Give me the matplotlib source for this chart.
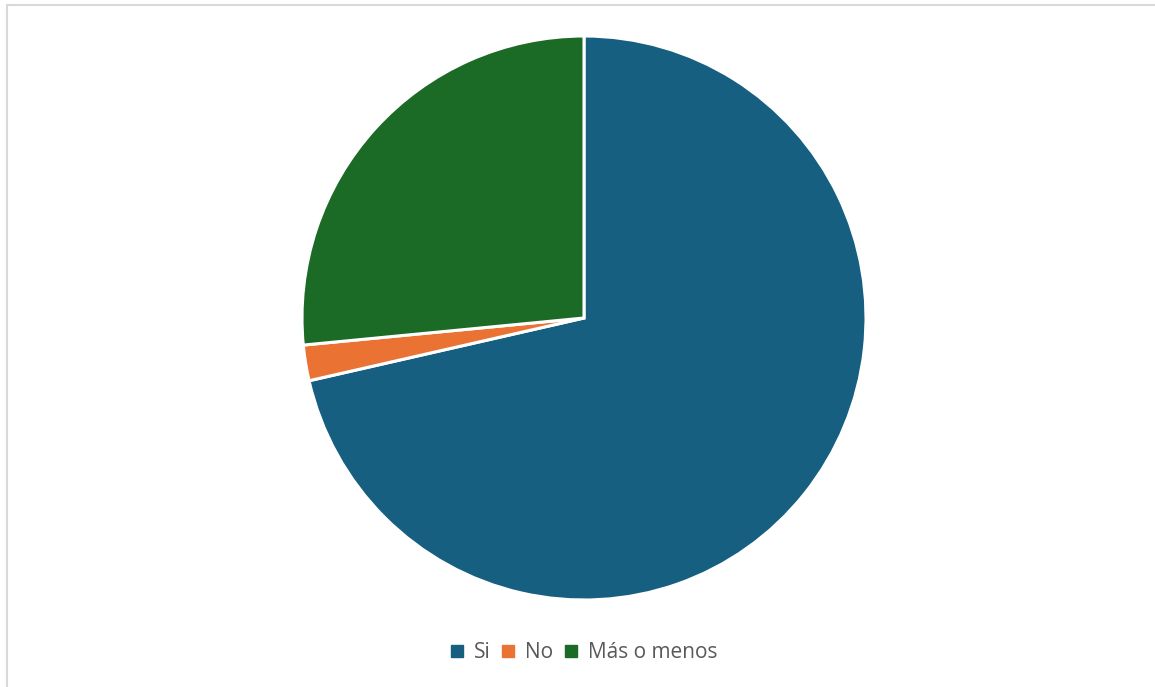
import matplotlib.pyplot as plt
import matplotlib.patches as patches
from matplotlib.lines import Line2D

labels = ["Si", "No", "Más o menos"]
values = [35, 1, 13]
colors = ["#175f80", "#ea7334", "#1b6a25"]

W, H = 1155, 687
fig = plt.figure(figsize=(W / 100, H / 100), dpi=100)

# light frame (only top/left visible in the reference)
fig.patches.append(patches.Rectangle((7 / W, -0.1), 1.2, 1 - 5 / H + 0.1,
                                     transform=fig.transFigure, fill=False,
                                     edgecolor="#d9d9d9", linewidth=1.5))

cx, cy, r = 584, 318, 282
ax = fig.add_axes([(cx - r) / W, (H - cy - r) / H, 2 * r / W, 2 * r / H])
ax.pie(values, colors=colors, startangle=90, counterclock=False, radius=1,
       wedgeprops=dict(edgecolor="white", linewidth=2.2))
ax.set_xlim(-1, 1)
ax.set_ylim(-1, 1)
ax.set_aspect("equal")
ax.axis("off")

handles = [Line2D([], [], marker="s", linestyle="none", markersize=9,
                  markerfacecolor=c, markeredgecolor=c) for c in colors]
fig.legend(handles, labels, loc="center", bbox_to_anchor=(582 / W, 1 - 653 / H),
           ncol=3, frameon=False, handletextpad=0.3, columnspacing=0.35,
           handlelength=1.0, prop=dict(family="Open Sans", size=15),
           labelcolor="#595959")

fig.savefig("out.png", dpi=100)
